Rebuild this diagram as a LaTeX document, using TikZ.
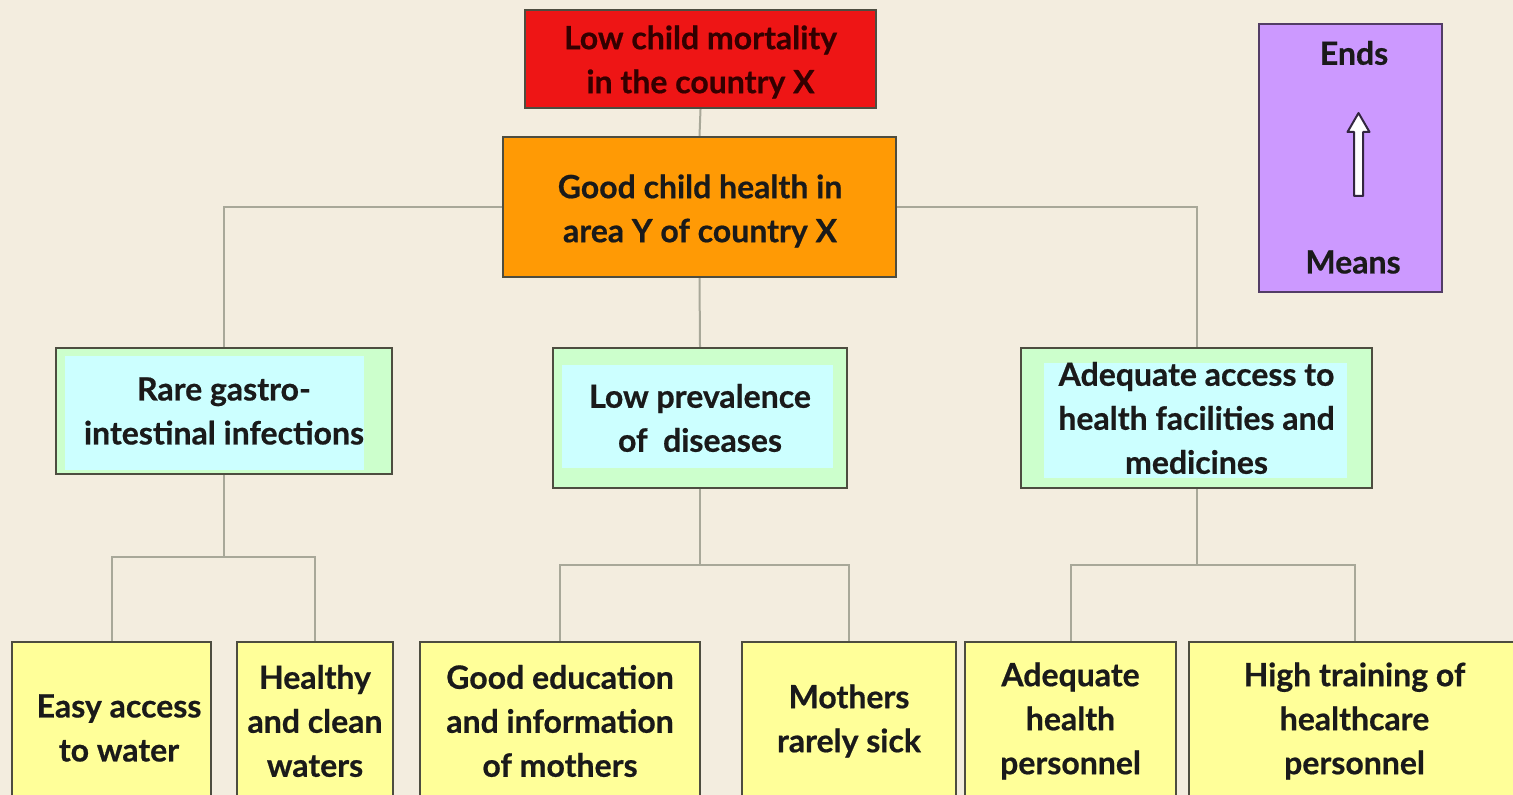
\documentclass[tikz,border=0pt]{standalone}
\usepackage{fontspec}
\setmainfont{Lato}[BoldFeatures={FakeBold=0.6}]
\usetikzlibrary{calc}
\definecolor{bgc}{HTML}{F3EDDF}
\definecolor{redc}{HTML}{EE1515}
\definecolor{orangec}{HTML}{FF9A05}
\definecolor{purplec}{HTML}{CC99FF}
\definecolor{greenc}{HTML}{CCFFCC}
\definecolor{cyanc}{HTML}{CCFFFF}
\definecolor{yellowc}{HTML}{FFFF99}
\definecolor{bordc}{HTML}{4D4D40}
\definecolor{linec}{HTML}{A8A899}
\definecolor{txtc}{HTML}{1A1A1A}
\tikzset{
  basebox/.style={draw=bordc, line width=1.2pt, rectangle, inner sep=0pt, align=center,
    text=txtc, font=\fontsize{16}{22}\selectfont\bfseries},
  redbox/.style={basebox, fill=redc},
  orangebox/.style={basebox, fill=orangec},
  purplebox/.style={basebox, fill=purplec, draw=purplec!40!black},
  midbox/.style n args={4}{basebox, fill=greenc,
    path picture={\fill[cyanc] ($(path picture bounding box.north west)+(#1pt,-#3pt)$)
      rectangle ($(path picture bounding box.south east)+(-#2pt,#4pt)$);}},
  lowbox/.style={basebox, fill=yellowc},
  conn/.style={draw=linec, line width=1pt},
  lbl/.style={text=txtc, font=\fontsize{16}{22}\selectfont\bfseries, inner sep=0pt, align=center},
}
\begin{document}
\begin{tikzpicture}[x=0.5pt, y=-0.5pt]
\useasboundingbox (0,0) rectangle (1513,795);
\fill[bgc] (0,0) rectangle (1513,795);

% top
\node[redbox, minimum width=175.5pt, minimum height=49pt] (red) at (700.5,59) {};
\node[lbl, text=black!80!red] (redT) at (700.5,62) {Low child mortality\\in the country X};
\node[orangebox, minimum width=196.5pt, minimum height=70pt] (orange) at (699.5,207) {};
\node[lbl] (orangeT) at (700,211) {Good child health in\\area Y of country X};

% legend
\node[purplebox, minimum width=91.5pt, minimum height=134pt] (legend) at (1350.5,158) {};
\node[lbl] (ends) at (1354,53) {Ends};
\node[lbl] (means) at (1353,262) {Means};
\draw[fill=white, draw=purplec!25!black, line width=1pt, line join=round]
  (1354,196) -- (1354,132) -- (1347.5,132) -- (1358.5,113) -- (1369.5,132)
  -- (1363,132) -- (1363,196) -- cycle;

% middle
\node[midbox={4.5}{14}{4}{2}, minimum width=168pt, minimum height=63pt] (L) at (224,411)
  {Rare gastro-\\intestinal infections};
\node[midbox={4.5}{7}{8.5}{10}, minimum width=147pt, minimum height=70pt] (M) at (700,418)
  {Low prevalence\\of\ \ diseases};
\node[midbox={11.5}{12.5}{7.5}{5}, minimum width=175.5pt, minimum height=70pt] (R) at (1196.5,418)
  {Adequate access to\\health facilities and\\medicines};

% bottom
\node[lowbox, minimum width=99.5pt, minimum height=79pt] (B1) at (111.5,721) {};
\node[lbl] (B1t) at (119,728) {Easy access\\to water};
\node[lowbox, minimum width=78pt, minimum height=79pt] (B2) at (315,721)
  {Healthy\\and clean\\waters};
\node[lowbox, minimum width=140pt, minimum height=79pt] (B3) at (560,721)
  {Good education\\and information\\of mothers};
\node[lowbox, minimum width=107pt, minimum height=79pt] (B4) at (849,721)
  {Mothers\\rarely sick};
\node[lowbox, minimum width=105.5pt, minimum height=79pt] (B5) at (1070.5,721)
  {Adequate\\health\\personnel};
\node[lowbox, minimum width=165.5pt, minimum height=79pt] (B6) at (1354.5,721)
  {High training of\\healthcare\\personnel};

% connectors
\draw[conn] (red.south) -- (orange.north);
\draw[conn] (orange.west) -| (L.north);
\draw[conn] (orange.east) -| (R.north);
\draw[conn] (orange.south) -- (M.north);

\coordinate (jL) at (224,557);
\coordinate (jM) at (700,565);
\coordinate (jR) at (1196.5,565);
\draw[conn] (L.south) -- (jL);
\draw[conn] (jL) -| (B1.north);
\draw[conn] (jL) -| (B2.north);
\draw[conn] (M.south) -- (jM);
\draw[conn] (jM) -| (B3.north);
\draw[conn] (jM) -| (B4.north);
\draw[conn] (R.south) -- (jR);
\draw[conn] (jR) -| (B5.north);
\draw[conn] (jR) -| (B6.north);
\end{tikzpicture}
\end{document}
